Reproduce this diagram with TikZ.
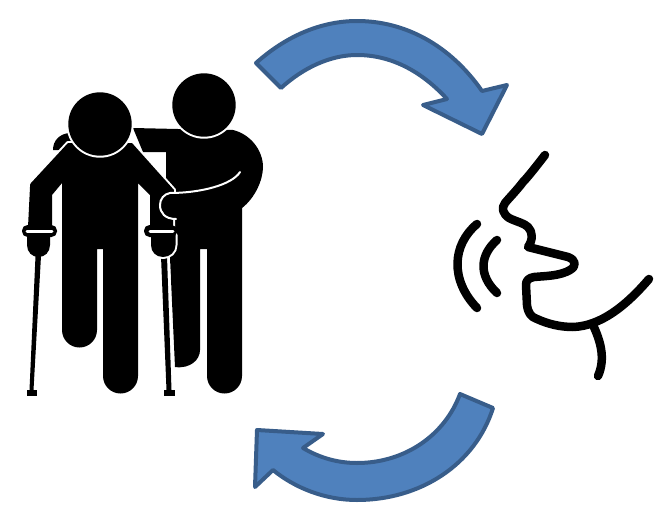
\documentclass[tikz,border=0pt]{standalone}
\definecolor{arrowfill}{HTML}{4F81BD}
\definecolor{arrowline}{HTML}{385D8A}
\tikzset{
  px/.style={x=1pt,y=-1pt},
  sil/.style={fill=black,draw=none},
  halo/.style={preaction={draw=white,line width=4pt,line join=round},fill=black},
  bluearrow/.style={fill=arrowfill,draw=arrowline,line width=4pt,line join=round},
  facestroke/.style={draw=black,line width=8.5pt,line cap=round,line join=round}
}
\begin{document}
\begin{tikzpicture}[px]
\useasboundingbox[fill=white] (0,0) rectangle (657,509);
% top arrow
\draw[bluearrow] (256,63) .. controls (285,37) and (320,21) .. (357,21)
  .. controls (405,21) and (450,45) .. (482,91) -- (507,85) -- (482,134) -- (423,105) -- (447,99)
  .. controls (425,75) and (395,55) .. (357,55)
  .. controls (330,55) and (303,68) .. (281,88) -- cycle;
% bottom arrow
\draw[bluearrow] (460,394) -- (493,408)
  .. controls (475,465) and (420,500) .. (357,500)
  .. controls (325,500) and (295,488) .. (273,470) -- (255,487) -- (257,430) -- (323,434) -- (303,448)
  .. controls (320,458) and (338,463) .. (357,463)
  .. controls (405,463) and (445,435) .. (460,394) -- cycle;
% helper's hand behind the patient
\fill[black] (53,150) .. controls (53,140) and (60,134) .. (69,133) -- (75,150) -- cycle;
% helper body
\path[sil] (133,128) -- (178,129) -- (233,130)
  .. controls (250,134) and (263,150) .. (263,167)
  .. controls (263,180) and (255,198) .. (242,208)
  -- (242,376) arc[start angle=0,end angle=180,radius=17.5] -- (207,249) -- (200,249) -- (200,350)
  .. controls (200,360) and (190,369) .. (175,367)
  -- (170,258) -- (166,200) -- (166,152) -- (143,152) -- cycle;
% patient body
\path[halo] (68,143) -- (31,183) .. controls (30,184) and (30,185) .. (30,187)
  -- (28,227) -- (52,227) -- (52,195) -- (62,183) -- (62,330)
  arc[start angle=180,end angle=0,radius=17.5] -- (97,249) -- (103,249) -- (103,376)
  arc[start angle=180,end angle=0,radius=17.5] -- (138,183) -- (150,195) -- (150,227) -- (173,227)
  -- (174,190) -- (132,143) -- cycle;
% helper arm in front
\fill[black] (240,172) .. controls (232,185) and (200,193) .. (170,193)
  .. controls (164,194) and (160,199) .. (160,205)
  .. controls (160,213) and (165,219) .. (172,219)
  .. controls (200,219) and (225,216) .. (242,208) -- (250,170) -- cycle;
\draw[white,line width=2pt,line cap=round] (240,172) .. controls (232,185) and (200,193) .. (170,193)
  .. controls (164,194) and (160,199) .. (160,205)
  .. controls (160,213) and (165,219) .. (176,219);
% heads
\path[halo] (100,124) circle[radius=31.7];
\path[halo] (204,105) circle[radius=31.7];
% left crutch
\fill[black] (35.5,256) -- (41,256) -- (33.5,390) -- (29.5,390) -- cycle;
\fill[black] (26.5,390) rectangle (37,395.5);
\fill[black] (27,235) -- (50,235) -- (50,245) .. controls (50,252) and (45,257) .. (38.5,257)
  .. controls (32,257) and (27,252) .. (27,245) -- cycle;
\fill[black,rounded corners=5.5pt] (22,225) rectangle (57,237);
\draw[white,line width=3pt,line cap=round] (27,231) -- (52,231);
% right crutch
\draw[white,line width=7.6pt] (166,256) -- (169.5,390);
\fill[black] (161,256) -- (167,256) -- (171.5,390) -- (166.5,390) -- cycle;
\fill[black] (164,390) rectangle (174.5,395.5);
\path[halo] (151,235) -- (175.5,235) -- (175.5,245) .. controls (175.5,252) and (170,257) .. (163,257)
  .. controls (156,257) and (151,252) .. (151,245) -- cycle;
\path[fill=black,rounded corners=5.5pt] (144,225) rectangle (177,237);
\draw[white,line width=3pt,line cap=round] (150,231) -- (173,231);
% face
\draw[facestroke] (545,155) .. controls (535,168) and (527,178) .. (523,182)
  .. controls (517,190) and (510,197) .. (505,203)
  .. controls (501,208) and (503,214) .. (509,218)
  .. controls (517,222) and (524,223) .. (528,227)
  .. controls (533,232) and (533,240) .. (528,247)
  -- (568,257) .. controls (576,260) and (577,266) .. (570,270)
  .. controls (560,276) and (545,276) .. (534,277)
  .. controls (528,278) and (526,281) .. (526,285)
  -- (527,305) .. controls (528,313) and (531,317) .. (537,319)
  .. controls (548,324) and (560,327) .. (573,327)
  .. controls (600,326) and (625,307) .. (649,279);
\draw[facestroke] (593,325) .. controls (600,340) and (606,358) .. (598,376);
\draw[facestroke] (477,224) .. controls (452,245) and (450,280) .. (477,308);
\draw[facestroke] (497,240) .. controls (480,255) and (478,275) .. (497,293);
\end{tikzpicture}
\end{document}
